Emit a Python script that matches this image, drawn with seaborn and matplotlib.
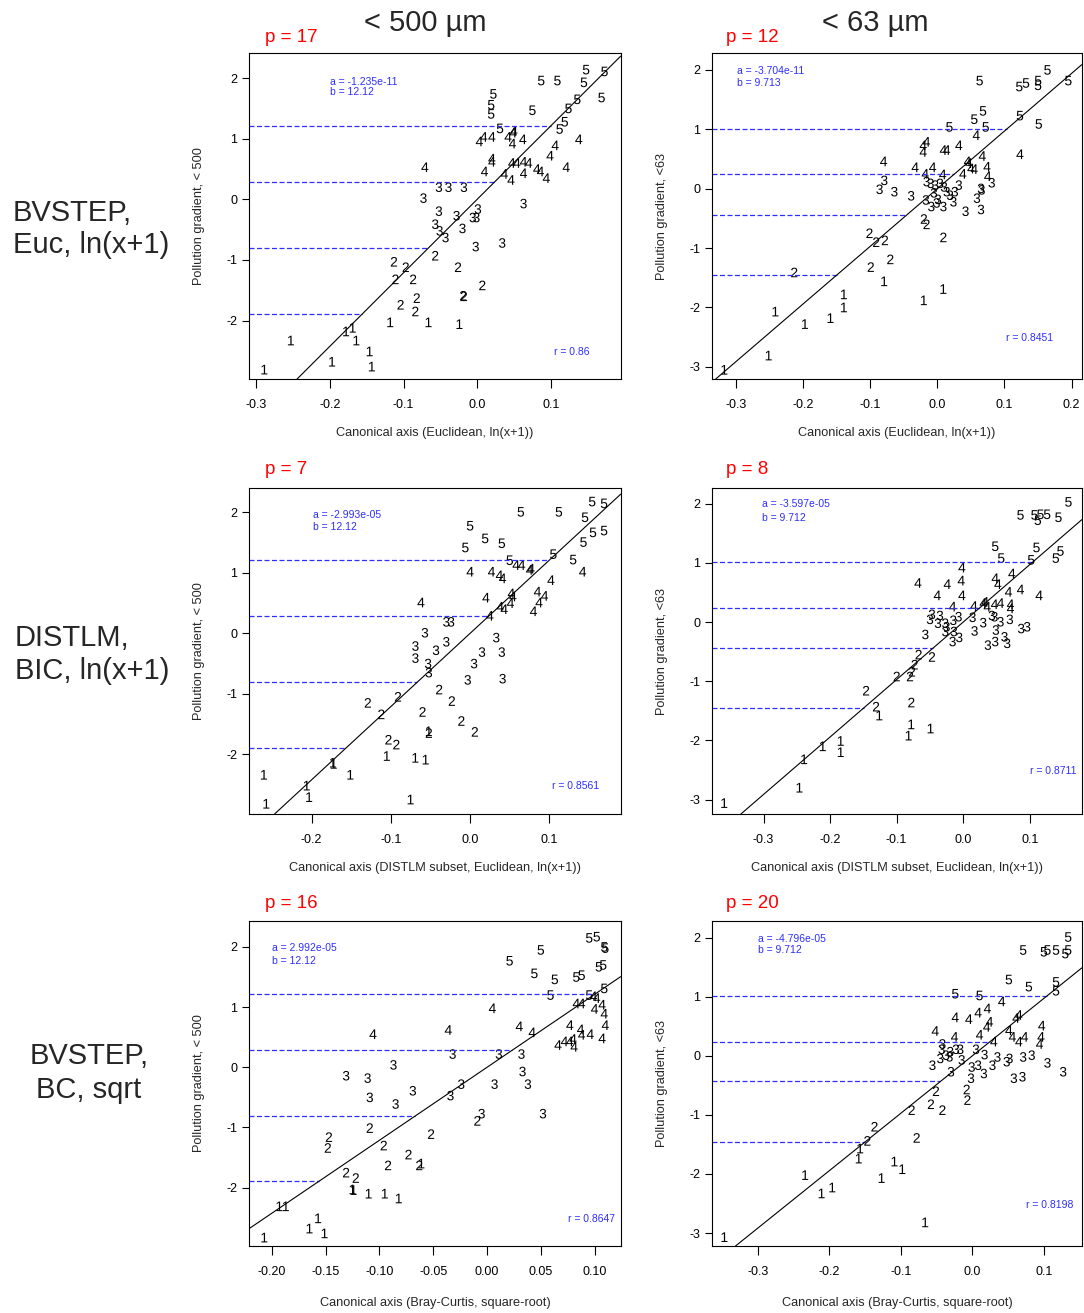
import pandas as pd
import matplotlib.pyplot as plt
import seaborn as sns

# ---- data ---------------------------------------------------------------
# counts of samples in pollution groups 1..5 (points ordered group 1 -> 5)
p1_n = [11, 12, 16, 26, 15]
p1_x = [-0.118, -0.066, -0.024, -0.178, -0.169, -0.253, -0.164, -0.146, -0.197, -0.143, -0.289,
        -0.113, -0.097, -0.111, -0.087, -0.057, -0.026, 0.007, -0.019, -0.018, -0.082, -0.104, -0.084,
        -0.052, -0.039, -0.018, -0.073, -0.052, -0.028, -0.006, 0.001, -0.001, -0.057, -0.051, -0.043,
        -0.020, -0.002, 0.034, 0.063,
        0.050, 0.049, 0.003, 0.009, 0.020, 0.042, 0.048, 0.062, -0.071, 0.020, 0.020, 0.010, 0.047,
        0.054, 0.063, 0.070, 0.063, 0.037, 0.046, 0.081, 0.086, 0.094, 0.099, 0.106, 0.138, 0.121,
        0.148, 0.173, 0.087, 0.109, 0.145, 0.022, 0.019, 0.019, 0.136, 0.169, 0.075, 0.124, 0.119,
        0.112, 0.031]
p1_y = [-2.03, -2.03, -2.06, -2.18, -2.12, -2.33, -2.33, -2.51, -2.68, -2.76, -2.81,
        -1.03, -1.12, -1.32, -1.32, -0.93, -1.12, -1.42, -1.59, -1.60, -1.63, -1.74, -1.85,
        0.20, 0.20, 0.20, 0.02, -0.195, -0.27, -0.30, -0.16, -0.30, -0.41, -0.52, -0.63,
        -0.48, -0.78, -0.72, -0.07,
        1.13, 1.10, 0.955, 1.03, 1.03, 1.03, 0.92, 0.99, 0.53, 0.67, 0.62, 0.46, 0.60,
        0.60, 0.62, 0.60, 0.43, 0.42, 0.32, 0.50, 0.46, 0.35, 0.72, 0.89, 0.99, 0.53,
        2.14, 2.11, 1.96, 1.96, 1.93, 1.74, 1.56, 1.41, 1.65, 1.68, 1.47, 1.50, 1.28,
        1.16, 1.17]

p2_n = [10, 9, 26, 21, 13]
p2_x = [-0.079, -0.139, -0.139, -0.159, -0.241, -0.197, 0.009, -0.020, -0.251, -0.317,
        -0.020, -0.016, -0.101, -0.091, -0.078, 0.009, -0.070, -0.099, -0.213,
        -0.079, -0.086, -0.064, -0.039, -0.016, -0.010, -0.003, 0.004, 0.010, 0.014, -0.005, -0.017,
        -0.009, 0.001, -0.001, 0.009, 0.019, 0.026, 0.032, 0.024, 0.042, 0.059, 0.065, 0.066,
        0.065, 0.081,
        0.058, -0.016, -0.021, -0.021, 0.009, 0.014, 0.032, -0.080, -0.033, -0.007, -0.018, 0.008,
        0.038, 0.045, 0.047, 0.050, 0.055, 0.067, 0.074, 0.075, 0.123,
        0.164, 0.063, 0.122, 0.132, 0.150, 0.150, 0.195, 0.068, 0.055, 0.123, 0.151, 0.018, 0.072]
p2_y = [-1.56, -1.78, -2.00, -2.18, -2.07, -2.28, -1.69, -1.88, -2.81, -3.05,
        -0.51, -0.60, -0.75, -0.90, -0.87, -0.82, -1.19, -1.32, -1.41,
        0.14, -0.01, -0.05, -0.12, 0.12, 0.09, 0.06, 0.09, 0.03, -0.05, -0.07, -0.19,
        -0.30, -0.18, -0.24, -0.30, -0.11, -0.05, 0.06, -0.22, -0.38, -0.16, 0.005, -0.02,
        -0.35, 0.10,
        0.90, 0.79, 0.73, 0.62, 0.65, 0.65, 0.73, 0.46, 0.36, 0.36, 0.25, 0.24,
        0.25, 0.46, 0.43, 0.34, 0.33, 0.55, 0.37, 0.21, 0.58,
        2.00, 1.82, 1.72, 1.78, 1.82, 1.74, 1.82, 1.31, 1.17, 1.23, 1.09, 1.04, 1.04]

p3_n = [12, 11, 15, 22, 15]
p3_x = [-0.052, -0.173, -0.172, -0.105, -0.069, -0.056, -0.151, -0.260, -0.206, -0.203, -0.075, -0.257,
        -0.091, -0.039, -0.129, -0.112, -0.023, -0.060, -0.011, 0.006, -0.052, -0.103, -0.093,
        -0.030, -0.024, -0.057, -0.069, -0.030, -0.043, -0.069, -0.053, -0.052, 0.033, 0.015, 0.040,
        0.005, -0.003, 0.041,
        0.058, 0.065, 0.075, 0.077, 0.000, 0.027, 0.037, 0.041, 0.142, 0.102, -0.062, 0.020, 0.052,
        0.054, 0.051, 0.038, 0.043, 0.025, 0.085, 0.094, 0.087, 0.080,
        0.154, 0.169, 0.064, 0.112, 0.145, 0.000, 0.019, 0.040, -0.006, 0.155, 0.169, 0.143, 0.105,
        0.130, 0.050]
p3_y = [-1.62, -2.14, -2.16, -2.03, -2.06, -2.09, -2.34, -2.34, -2.52, -2.71, -2.75, -2.82,
        -1.05, -0.93, -1.15, -1.34, -1.12, -1.30, -1.45, -1.63, -1.65, -1.76, -1.84,
        0.19, 0.19, 0.01, -0.21, -0.14, -0.28, -0.41, -0.50, -0.65, -0.07, -0.31, -0.31,
        -0.50, -0.77, -0.75,
        1.13, 1.13, 1.05, 1.07, 1.02, 1.02, 0.96, 0.91, 1.02, 0.88, 0.51, 0.59, 0.66,
        0.61, 0.50, 0.44, 0.40, 0.29, 0.69, 0.62, 0.51, 0.365,
        2.18, 2.15, 2.01, 2.01, 1.92, 1.78, 1.57, 1.49, 1.42, 1.67, 1.70, 1.51, 1.31,
        1.22, 1.21]

p4_n = [10, 9, 27, 21, 13]
p4_x = [-0.126, -0.078, -0.082, -0.049, -0.184, -0.184, -0.211, -0.239, -0.246, -0.359,
        -0.067, -0.047, -0.073, -0.077, -0.080, -0.100, -0.146, -0.078, -0.131,
        -0.047, -0.035, -0.050, -0.038, -0.027, -0.025, -0.015, -0.007, -0.014, -0.027, -0.057, -0.016,
        -0.006, 0.014, 0.030, 0.017, 0.043, 0.047, 0.056, 0.070, 0.049, 0.048, 0.037, 0.062,
        0.066, 0.087, 0.096,
        -0.002, -0.003, -0.068, -0.024, -0.039, -0.002, 0.048, 0.052, 0.073, 0.068, 0.086, 0.114,
        -0.016, 0.016, 0.030, 0.033, 0.036, 0.047, 0.056, 0.071, 0.071,
        0.158, 0.086, 0.107, 0.116, 0.126, 0.112, 0.143, 0.048, 0.110, 0.146, 0.139, 0.057, 0.102]
p4_y = [-1.58, -1.73, -1.92, -1.80, -2.01, -2.20, -2.10, -2.32, -2.80, -3.06,
        -0.55, -0.59, -0.72, -0.84, -0.92, -0.92, -1.16, -1.36, -1.43,
        0.13, 0.11, 0.045, -0.02, -0.02, -0.08, 0.03, 0.09, -0.16, -0.16, -0.21, -0.33,
        -0.26, 0.08, -0.01, -0.15, 0.11, 0.09, 0.005, 0.045, -0.135, -0.33, -0.39, -0.25,
        -0.36, -0.11, -0.08,
        0.92, 0.70, 0.66, 0.64, 0.45, 0.45, 0.74, 0.64, 0.82, 0.51, 0.55, 0.45,
        0.26, 0.27, 0.32, 0.34, 0.26, 0.30, 0.32, 0.30, 0.23,
        2.03, 1.81, 1.81, 1.82, 1.82, 1.72, 1.77, 1.28, 1.26, 1.20, 1.08, 1.08, 1.05]

p5_n = [12, 11, 16, 23, 15]
p5_x = [-0.061, -0.125, -0.124, -0.110, -0.095, -0.082, -0.193, -0.187, -0.157, -0.165, -0.151, -0.207,
        -0.009, -0.109, -0.147, -0.148, -0.052, -0.096, -0.073, -0.063, -0.092, -0.131, -0.122,
        -0.032, 0.011, 0.032, -0.087, -0.131, -0.111, 0.033, -0.024, 0.007, 0.038, -0.069, -0.034,
        -0.109, -0.085, -0.005, 0.052,
        0.099, 0.102, 0.083, 0.088, 0.107, 0.100, 0.109, 0.005, -0.106, -0.036, 0.030, 0.042,
        0.077, 0.087, 0.088, 0.096, 0.110, 0.107, 0.066, 0.072, 0.077, 0.080, 0.081,
        0.095, 0.102, 0.109, 0.110, 0.050, 0.021, 0.044, 0.063, 0.083, 0.088, 0.104, 0.108,
        0.109, 0.059, 0.095]
p5_y = [-1.60, -2.03, -2.04, -2.10, -2.10, -2.18, -2.31, -2.31, -2.51, -2.68, -2.76, -2.83,
        -0.89, -1.01, -1.16, -1.34, -1.11, -1.30, -1.45, -1.63, -1.63, -1.75, -1.84,
        0.22, 0.22, 0.22, 0.04, -0.14, -0.18, -0.07, -0.28, -0.28, -0.28, -0.39, -0.47,
        -0.50, -0.61, -0.77, -0.77,
        1.18, 1.15, 1.06, 1.06, 1.04, 0.97, 0.89, 0.98, 0.55, 0.62, 0.68, 0.58,
        0.70, 0.63, 0.54, 0.55, 0.70, 0.48, 0.37, 0.43, 0.43, 0.47, 0.34,
        2.15, 2.17, 2.00, 1.98, 1.95, 1.77, 1.56, 1.46, 1.50, 1.53, 1.67, 1.70,
        1.31, 1.20, 1.20]

p6_n = [10, 9, 27, 20, 13]
p6_x = [-0.157, -0.159, -0.109, -0.098, -0.127, -0.234, -0.196, -0.211, -0.066, -0.347,
        -0.051, -0.008, -0.007, -0.058, -0.042, -0.085, -0.137, -0.078, -0.147,
        -0.042, -0.043, -0.031, -0.037, -0.023, -0.017, -0.045, -0.032, -0.015, -0.056, -0.030, 0.005,
        0.017, 0.035, 0.028, 0.048, 0.052, 0.071, 0.083, -0.001, 0.008, 0.016, -0.002, 0.058,
        0.070, 0.105, 0.127,
        0.041, 0.021, 0.008, -0.024, -0.005, 0.024, 0.020, 0.061, 0.065, -0.052, -0.025, 0.010,
        0.030, 0.051, 0.056, 0.065, 0.073, 0.097, 0.096, 0.094,
        0.134, 0.071, 0.100, 0.105, 0.117, 0.130, 0.134, 0.051, 0.079, 0.117, 0.117, -0.024, 0.010]
p6_y = [-1.57, -1.74, -1.79, -1.92, -2.07, -2.02, -2.23, -2.33, -2.82, -3.07,
        -0.60, -0.57, -0.75, -0.82, -0.92, -0.92, -1.20, -1.39, -1.44,
        0.20, 0.11, 0.07, 0.01, 0.11, 0.11, -0.045, -0.017, -0.07, -0.16, -0.27, 0.11,
        0.02, -0.02, -0.16, -0.10, -0.045, -0.02, 0.01, -0.19, -0.16, -0.30, -0.38, -0.38,
        -0.355, -0.12, -0.27,
        0.92, 0.80, 0.73, 0.65, 0.62, 0.575, 0.49, 0.64, 0.69, 0.42, 0.32, 0.355,
        0.24, 0.43, 0.32, 0.24, 0.32, 0.51, 0.32, 0.20,
        2.01, 1.79, 1.76, 1.79, 1.79, 1.73, 1.79, 1.29, 1.17, 1.25, 1.10, 1.05, 1.02]

# fitted line y = a + b*x, correlation, and number of variables p
a_vals = [-1.235e-11, -3.704e-11, -2.993e-05, -3.597e-05, 2.992e-05, -4.796e-05]
b_vals = [12.12, 9.713, 12.12, 9.712, 12.12, 9.712]
a_text = ['-1.235e-11', '-3.704e-11', '-2.993e-05', '-3.597e-05', '2.992e-05', '-4.796e-05']
b_text = ['12.12', '9.713', '12.12', '9.712', '12.12', '9.712']
r_text = ['0.86', '0.8451', '0.8561', '0.8711', '0.8647', '0.8198']
p_vals = [17, 12, 7, 8, 16, 20]

# group boundaries on the pollution gradient
cut_500 = [1.21, 0.285, -0.81, -1.895]
cut_63 = [1.01, 0.24, -0.435, -1.455]

xlabels = ['Canonical axis (Euclidean, ln(x+1))'] * 2 + \
          ['Canonical axis (DISTLM subset, Euclidean, ln(x+1))'] * 2 + \
          ['Canonical axis (Bray-Curtis, square-root)'] * 2
ylabels = ['Pollution gradient, < 500', 'Pollution gradient, <63'] * 3

xticks = [[-0.3, -0.2, -0.1, 0.0, 0.1], [-0.3, -0.2, -0.1, 0.0, 0.1, 0.2],
          [-0.2, -0.1, 0.0, 0.1], [-0.3, -0.2, -0.1, 0.0, 0.1],
          [-0.20, -0.15, -0.10, -0.05, 0.00, 0.05, 0.10], [-0.3, -0.2, -0.1, 0.0, 0.1]]
xtick_fmt = ['%.1f', '%.1f', '%.1f', '%.1f', '%.2f', '%.1f']
yticks_500 = [-2, -1, 0, 1, 2]
yticks_63 = [-3, -2, -1, 0, 1, 2]

xlims = [(-0.3095, 0.195), (-0.335, 0.215), (-0.2785, 0.190),
         (-0.377, 0.178), (-0.221, 0.1243), (-0.364, 0.153)]
ylims = [(-2.97, 2.41), (-3.21, 2.28), (-2.99, 2.40),
         (-3.245, 2.26), (-2.97, 2.43), (-3.22, 2.28)]

row_labels = [['BVSTEP,', 'Euc, ln(x+1)'], ['DISTLM,', 'BIC, ln(x+1)'], ['BVSTEP,', 'BC, sqrt']]
col_titles = ['< 500 \u00b5m', '< 63 \u00b5m']

# ---- style ----------------------------------------------------------------
sns.set_style('ticks', {'axes.edgecolor': 'black', 'xtick.color': 'black', 'ytick.color': 'black'})
plt.rcParams['font.family'] = ['Liberation Sans', 'DejaVu Sans']
plt.rcParams['mathtext.fontset'] = 'custom'
plt.rcParams['mathtext.rm'] = 'Liberation Sans'
plt.rcParams['mathtext.it'] = 'Liberation Sans'
plt.rcParams['axes.unicode_minus'] = False

blue = '#2e2eff'
digit_markers = {g: '$%d$' % g for g in [1, 2, 3, 4, 5]}

fig = plt.figure(figsize=(10.84, 13.13), dpi=100)

rects = [[0.2300, 0.7111, 0.3426, 0.2483], [0.6571, 0.7111, 0.3408, 0.2483],
         [0.2300, 0.3800, 0.3426, 0.2481], [0.6571, 0.3800, 0.3408, 0.2481],
         [0.2300, 0.0510, 0.3426, 0.2475], [0.6571, 0.0510, 0.3408, 0.2475]]
a_pos = [(0.217, 0.913, 0.880), (0.066, 0.947, 0.908), (0.171, 0.918, 0.882),
         (0.135, 0.952, 0.908), (0.060, 0.916, 0.877), (0.124, 0.944, 0.910)]
r_pos = [(0.915, 0.084), (0.922, 0.127), (0.942, 0.086),
         (0.987, 0.132), (0.985, 0.083), (0.977, 0.126)]
xlab_y = [-0.165, -0.165, -0.166, -0.166, -0.175, -0.175]

all_x = [p1_x, p2_x, p3_x, p4_x, p5_x, p6_x]
all_y = [p1_y, p2_y, p3_y, p4_y, p5_y, p6_y]
all_n = [p1_n, p2_n, p3_n, p4_n, p5_n, p6_n]

for i in range(6):
    ax = fig.add_axes(rects[i])
    groups = []
    for g, n in zip([1, 2, 3, 4, 5], all_n[i]):
        groups += [g] * n
    df = pd.DataFrame({'x': all_x[i], 'y': all_y[i], 'g': groups})

    a, b = a_vals[i], b_vals[i]
    cuts = cut_500 if i % 2 == 0 else cut_63
    for c in cuts:
        ax.hlines(c, xlims[i][0], (c - a) / b, colors=blue, linestyles=(0, (4, 2)), lw=0.9)
    ax.axline((0, a), slope=b, color='black', lw=0.8)

    sns.scatterplot(data=df, x='x', y='y', style='g', markers=digit_markers, color='black',
                    s=48, linewidth=0, legend=False, ax=ax)

    ax.set_xlim(xlims[i])
    ax.set_ylim(ylims[i])
    ax.set_xticks(xticks[i])
    ax.set_xticklabels([xtick_fmt[i] % t for t in xticks[i]])
    yt = yticks_500 if i % 2 == 0 else yticks_63
    ax.set_yticks(yt)
    ax.set_yticklabels([str(t) for t in yt])
    ax.tick_params(axis='x', length=6.5, width=0.8, pad=8, labelsize=9)
    ax.tick_params(axis='y', length=5, width=0.8, pad=3.5, labelsize=9)
    for sp in ax.spines.values():
        sp.set_linewidth(0.8)

    ax.set_xlabel(xlabels[i], fontsize=9.2)
    ax.set_ylabel(ylabels[i], fontsize=9.2)
    ax.xaxis.set_label_coords(0.5, xlab_y[i])
    ax.xaxis.label.set_va('center')
    ax.yaxis.set_label_coords(-0.135, 0.5)
    ax.yaxis.label.set_va('center')

    ax.text(a_pos[i][0], a_pos[i][1], 'a = ' + a_text[i], transform=ax.transAxes,
            color=blue, fontsize=7.5, va='center', ha='left')
    ax.text(a_pos[i][0], a_pos[i][2], 'b = ' + b_text[i], transform=ax.transAxes,
            color=blue, fontsize=7.5, va='center', ha='left')
    ax.text(r_pos[i][0], r_pos[i][1], 'r = ' + r_text[i], transform=ax.transAxes,
            color=blue, fontsize=7.5, va='center', ha='right')

# panel annotations (figure pixel positions converted to fractions)
p_left = [265, 726]
p_top = [37, 470, 904]
for i in range(6):
    fig.text(p_left[i % 2] / 1084, 1 - p_top[i // 2] / 1313, 'p = %d' % p_vals[i],
             color='red', fontsize=13.5, ha='left', va='center')

fig.text(425 / 1084, 1 - 23 / 1313, col_titles[0], fontsize=21, ha='center', va='center')
fig.text(875 / 1084, 1 - 23 / 1313, col_titles[1], fontsize=21, ha='center', va='center')

fig.text(13 / 1084, 1 - 213 / 1313, row_labels[0][0], fontsize=21, ha='left', va='center')
fig.text(13 / 1084, 1 - 245 / 1313, row_labels[0][1], fontsize=21, ha='left', va='center')
fig.text(15 / 1084, 1 - 638 / 1313, row_labels[1][0], fontsize=21, ha='left', va='center')
fig.text(15 / 1084, 1 - 671 / 1313, row_labels[1][1], fontsize=21, ha='left', va='center')
fig.text(89 / 1084, 1 - 1056 / 1313, row_labels[2][0], fontsize=21, ha='center', va='center')
fig.text(89 / 1084, 1 - 1090 / 1313, row_labels[2][1], fontsize=21, ha='center', va='center')

fig.savefig('out.png', dpi=100)
